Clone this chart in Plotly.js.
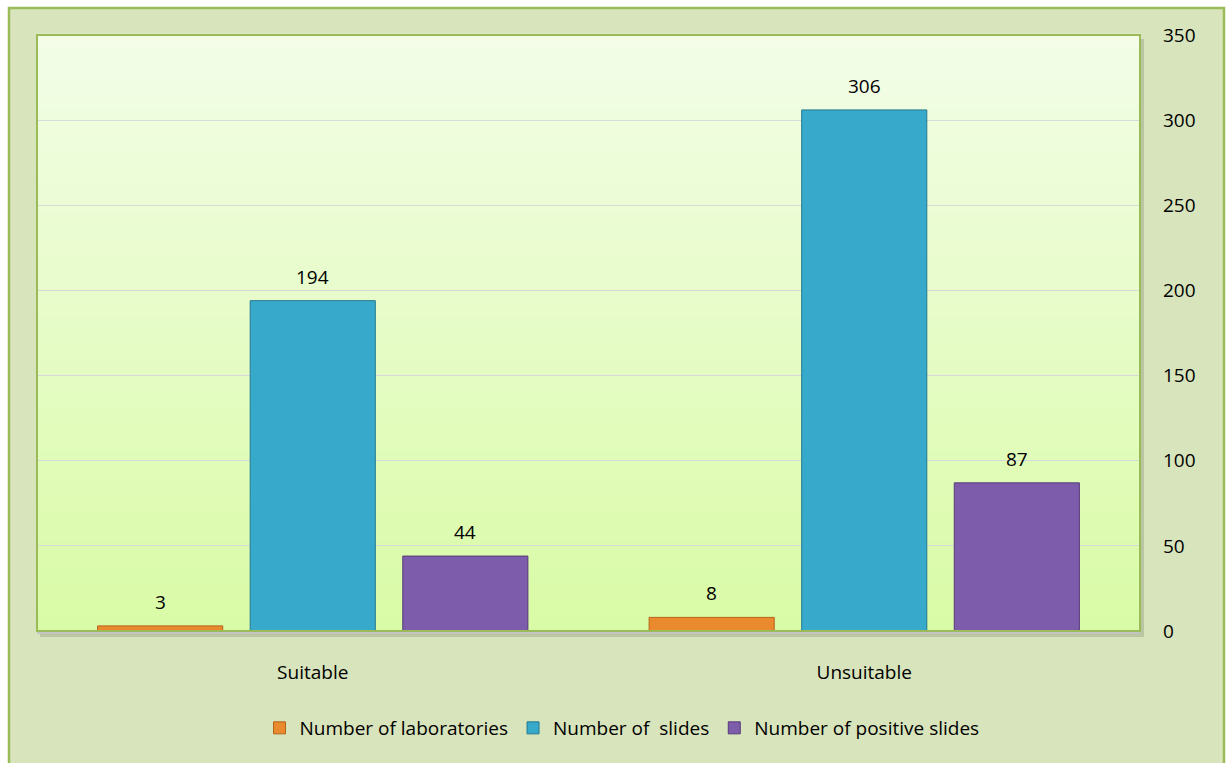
<!DOCTYPE html>
<html>
<head>
<meta charset="utf-8">
<script src="https://cdn.plot.ly/plotly-3.0.1.min.js"></script>
<style>html,body{margin:0;padding:0;background:#fff;}#chart{width:1229px;height:763px;}</style>
</head>
<body>
<div id="chart"></div>
<script>
const categories = ["Suitable", "Unsuitable"];
const seriesNames = ["Number of laboratories", "Number of  slides", "Number of positive slides"];
const laboratories = [3, 8];
const slides = [194, 306];
const positiveSlides = [44, 87];
const yTicks = [0, 50, 100, 150, 200, 250, 300, 350];

const seriesValues = [laboratories, slides, positiveSlides];
const colors = ["#ea8a2e", "#37aacc", "#7d5cab"];
const lineColors = ["#b5621a", "#23788f", "#553a78"];

const FONT = "'Open Sans', Lato, sans-serif";
const FS = 19;
const bargap = 0.17;
const slotW = (1 - bargap) / 3;

const traces = seriesValues.map((vals, j) => ({
  type: "bar",
  name: seriesNames[j],
  x: categories,
  y: vals,
  marker: {color: colors[j], line: {color: lineColors[j], width: 1}},
  hoverinfo: "x+y+name"
}));

const annotations = [];
seriesValues.forEach((vals, j) => {
  vals.forEach((v, i) => {
    annotations.push({
      xref: "x", yref: "y",
      x: i + (j - 1) * slotW,
      y: v,
      text: String(v),
      showarrow: false,
      yanchor: "middle",
      yshift: 24,
      font: {family: FONT, size: FS, color: "#000"}
    });
  });
});

const plotH = 763 - 35 - 132;
const plotW = 1229 - 37 - 89;
const px = p => (p - 37) / plotW;
const py = p => (631 - p) / plotH;

// background gradient bands (styling only)
function mix(a, b, t) {
  const ca = [1,3,5].map(k => parseInt(a.substr(k,2),16));
  const cb = [1,3,5].map(k => parseInt(b.substr(k,2),16));
  return "rgb(" + ca.map((c,k) => Math.round(c + (cb[k]-c)*t)).join(",") + ")";
}
const bands = [];
const NB = 40;
for (let k = 0; k < NB; k++) {
  bands.push({type: "rect", xref: "paper", yref: "paper", layer: "below",
    x0: 0, x1: 1, y0: 1 - (k+1)/NB, y1: 1 - k/NB + 0.002,
    fillcolor: mix("#f3fde8", "#d9fba6", (k+0.5)/NB), line: {width: 0}});
}

const layout = {
  width: 1229, height: 763,
  margin: {l: 37, r: 89, t: 35, b: 132},
  paper_bgcolor: "#ffffff",
  plot_bgcolor: "rgba(0,0,0,0)",
  barmode: "group",
  bargap: bargap,
  bargroupgap: 0.18,
  font: {family: FONT, size: FS, color: "#000"},
  showlegend: true,
  legend: {
    orientation: "h", x: px(622), xanchor: "center", y: py(728), yanchor: "middle",
    font: {family: FONT, size: FS, color: "#000"}, bgcolor: "rgba(0,0,0,0)",
    itemwidth: 30
  },
  xaxis: {
    type: "category",
    showgrid: false, zeroline: false,
    showline: true, linecolor: "#c4c4c4", linewidth: 3,
    ticks: "", ticklabelstandoff: 22,
    tickfont: {family: FONT, size: FS, color: "#000"}
  },
  yaxis: {
    side: "right", range: [0, 350],
    tickvals: yTicks, ticktext: yTicks.map(String),
    showgrid: true, gridcolor: "#d9d9d9", gridwidth: 1,
    zeroline: false, showline: false, ticks: "",
    ticklabelstandoff: 22,
    tickfont: {family: FONT, size: FS, color: "#000"}
  },
  shapes: [
    {type: "rect", xref: "paper", yref: "paper", layer: "below",
     x0: px(9), x1: px(1224), y0: py(775), y1: py(8),
     fillcolor: "#d8e4bc", line: {color: "#9bbb59", width: 2.5}},
    {type: "rect", xref: "paper", yref: "paper", layer: "below",
     x0: px(40), x1: px(1144), y0: py(637), y1: py(39),
     fillcolor: "rgba(150,160,130,0.45)", line: {width: 0}}
  ].concat(bands).concat([
    {type: "rect", xref: "paper", yref: "paper", layer: "above",
     x0: 0, x1: 1, y0: 0, y1: 1,
     fillcolor: "rgba(0,0,0,0)", line: {color: "#9bbb59", width: 2}}
  ]),
  annotations: annotations
};

Plotly.newPlot("chart", traces, layout, {displayModeBar: false, staticPlot: true});
</script>
</body>
</html>
